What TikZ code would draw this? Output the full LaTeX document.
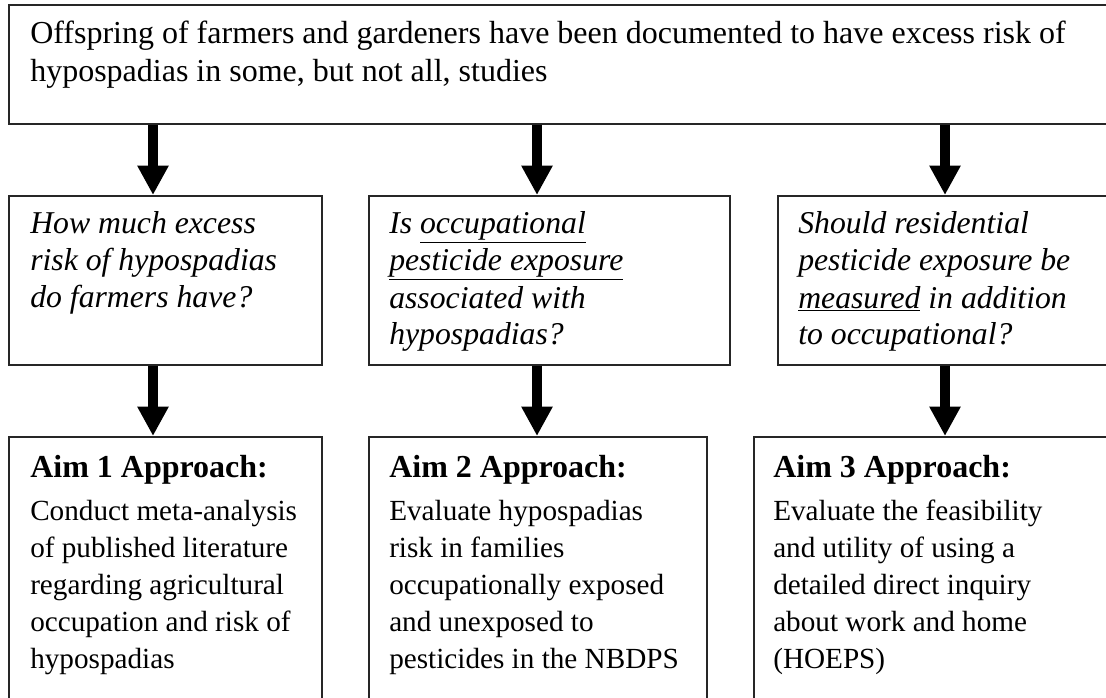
\documentclass[tikz,border=0pt]{standalone}
\usepackage{fontspec}
\setmainfont{Liberation Serif}
\usetikzlibrary{arrows.meta,positioning}

\tikzset{
  box/.style={draw=black!85, line width=1.2pt, anchor=north west, inner sep=0pt},
  txt/.style={anchor=base west, align=left, inner sep=0pt, font=\fontsize{21.9pt}{27.75pt}\selectfont},
  quest/.style={txt, font=\fontsize{23.8pt}{27.75pt}\selectfont\itshape},
  fat/.style={line width=8pt, -{Triangle[width=22pt,length=22pt]}},
}

\begin{document}
\begin{tikzpicture}[x=0.75pt,y=0.75pt,yscale=-1,xscale=1]
    \useasboundingbox (0,0) rectangle (1106,698);
    \clip (0,0) rectangle (1106,698);

    % Boxes
    \node[box, minimum width=830.25pt, minimum height=89.25pt] (top) at (8,4) {};
    \node[box, minimum width=234.75pt, minimum height=126.75pt] (q1) at (8,195) {};
    \node[box, minimum width=270.75pt, minimum height=126.75pt] (q2) at (368,195) {};
    \node[box, minimum width=257.25pt, minimum height=126.75pt] (q3) at (777,195) {};
    \node[box, minimum width=234.75pt, minimum height=205.5pt] (b1) at (8,436) {};
    \node[box, minimum width=253.5pt, minimum height=205.5pt] (b2) at (368,436) {};
    \node[box, minimum width=275.25pt, minimum height=205.5pt] (b3) at (753,436) {};

    % Text Node (base = last line)
    \node[txt, font=\fontsize{24pt}{28.5pt}\selectfont] (ttop) at (30,82) {Offspring of farmers and gardeners have been documented to have excess risk of\\hypospadias in some, but not all, studies};
    % Text Node
    \node[quest] (tq1) at (30,308) {How much excess\\risk of hypospadias\\do farmers have?};
    % Text Node
    \node[quest] (tq2) at (389,345) {Is \underline{occupational}\\\underline{pesticide exposure}\\associated with\\hypospadias?};
    % Text Node
    \node[quest] (tq3) at (798,345) {Should residential\\pesticide exposure be\\\underline{measured} in addition\\to occupational?};
    % Text Node
    \node[txt] (tb1) at (30,668) {{\fontsize{24pt}{27.75pt}\selectfont\textbf{Aim 1 Approach:}}\\[4.5pt]Conduct meta-analysis\\of published literature\\regarding agricultural\\occupation and risk of\\hypospadias};
    % Text Node
    \node[txt] (tb2) at (389,668) {{\fontsize{24pt}{27.75pt}\selectfont\textbf{Aim 2 Approach:}}\\[4.5pt]Evaluate hypospadias\\risk in families\\occupationally exposed\\and unexposed to\\pesticides in the NBDPS};
    % Text Node
    \node[txt] (tb3) at (773,668) {{\fontsize{24pt}{27.75pt}\selectfont\textbf{Aim 3 Approach:}}\\[4.5pt]Evaluate the feasibility\\and utility of using a\\detailed direct inquiry\\about work and home\\(HOEPS)};

    % Connection
    \coordinate (a1) at (153,0);
    \coordinate (a2) at (537,0);
    \coordinate (a3) at (945,0);
    \draw[fat] (a1 |- top.south) -- (a1 |- q1.north);
    \draw[fat] (a2 |- top.south) -- (a2 |- q2.north);
    \draw[fat] (a3 |- top.south) -- (a3 |- q3.north);
    % Connection
    \draw[fat] (a1 |- q1.south) -- (a1 |- b1.north);
    \draw[fat] (a2 |- q2.south) -- (a2 |- b2.north);
    \draw[fat] (a3 |- q3.south) -- (a3 |- b3.north);

\end{tikzpicture}
\end{document}
